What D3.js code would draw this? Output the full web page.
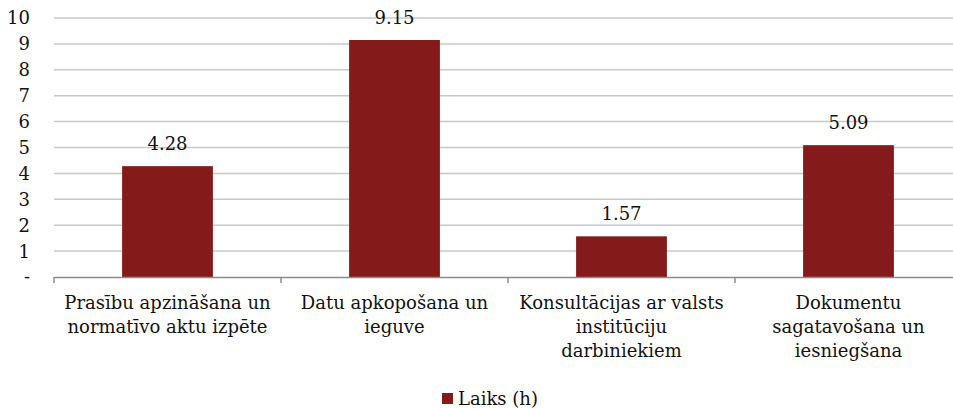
<!DOCTYPE html>
<html>
<head>
<meta charset="utf-8">
<script src="https://cdn.jsdelivr.net/npm/d3@7"></script>
<style>
  body { margin: 0; background: #fff; }
  svg text { font-family: "DejaVu Serif", "Liberation Serif", serif; fill: #111; }
</style>
</head>
<body>
<div id="chart"></div>
<script>
// data
var categories = [
    ["Prasību apzināšana un", "normatīvo aktu izpēte"],
    ["Datu apkopošana un", "ieguve"],
    ["Konsultācijas ar valsts", "institūciju", "darbiniekiem"],
    ["Dokumentu", "sagatavošana un", "iesniegšana"]
];
var values = [4.28, 9.15, 1.57, 5.09];
var tickValues = [0, 1, 2, 3, 4, 5, 6, 7, 8, 9, 10];
var seriesName = "Laiks (h)";

var w = 953;
var h = 409;
var plotLeft = 54, plotRight = 962, plotTop = 18, plotBottom = 277;
var barColor = "#841a1a";
var fontSize = "18px";

var svg = d3.select("#chart")
            .append("svg")
            .attr("width", w)
            .attr("height", h);

var x = d3.scaleBand()
    .domain(d3.range(values.length))
    .range([plotLeft, plotRight])
    .paddingInner(0.6)
    .paddingOuter(0.3);

var y = d3.scaleLinear().domain([0, 10]).range([plotBottom, plotTop]);

// gridlines
svg.append("g")
    .selectAll("line")
    .data(tickValues.slice(1))
    .enter()
    .append("line")
    .attr("x1", plotLeft)
    .attr("x2", w)
    .attr("y1", function(d){ return y(d); })
    .attr("y2", function(d){ return y(d); })
    .attr("stroke", "#c8c8c8")
    .attr("stroke-width", 1.5);

// y labels
svg.append("g")
    .selectAll("text")
    .data(tickValues)
    .enter()
    .append("text")
    .attr("x", 30)
    .attr("y", function(d){ return y(d); })
    .attr("dy", "0.36em")
    .attr("text-anchor", "end")
    .style("font-size", fontSize)
    .text(function(d){ return d === 0 ? "-" : d; });

// bars
svg.selectAll("rect.bar")
    .data(values)
    .enter()
    .append("rect")
    .attr("class", "bar")
    .attr("x", function(d, i){ return x(i); })
    .attr("y", function(d){ return y(d); })
    .attr("width", x.bandwidth())
    .attr("height", function(d){ return plotBottom - y(d); })
    .attr("fill", barColor);

// value labels
svg.selectAll("text.val")
    .data(values)
    .enter()
    .append("text")
    .attr("class", "val")
    .attr("x", function(d, i){ return x(i) + x.bandwidth() / 2; })
    .attr("y", function(d){ return y(d) - 16; })
    .attr("text-anchor", "middle")
    .style("font-size", fontSize)
    .text(function(d){ return d.toFixed(2); });

// x axis line + ticks
var axis = svg.append("g");
axis.append("line")
    .attr("x1", plotLeft).attr("x2", w)
    .attr("y1", plotBottom + 0.5).attr("y2", plotBottom + 0.5)
    .attr("stroke", "#8c8c8c")
    .attr("stroke-width", 1.5);
axis.selectAll("line.tick")
    .data(d3.range(values.length + 1))
    .enter()
    .append("line")
    .attr("class", "tick")
    .attr("x1", function(i){ return plotLeft + i * (plotRight - plotLeft) / values.length; })
    .attr("x2", function(i){ return plotLeft + i * (plotRight - plotLeft) / values.length; })
    .attr("y1", plotBottom)
    .attr("y2", plotBottom + 6)
    .attr("stroke", "#8c8c8c")
    .attr("stroke-width", 1.5);

// category labels
var cat = svg.selectAll("text.cat")
    .data(categories)
    .enter()
    .append("text")
    .attr("class", "cat")
    .attr("text-anchor", "middle")
    .style("font-size", fontSize);
cat.selectAll("tspan")
    .data(function(d, i){ return d.map(function(s){ return {s: s, i: i}; }); })
    .enter()
    .append("tspan")
    .attr("x", function(d){ return x(d.i) + x.bandwidth() / 2; })
    .attr("y", function(d, j){ return 309 + j * 24; })
    .text(function(d){ return d.s; });

// legend
var legend = svg.append("g");
legend.append("rect")
    .attr("x", 442).attr("y", 393)
    .attr("width", 11).attr("height", 11)
    .attr("fill", barColor);
legend.append("text")
    .attr("x", 458).attr("y", 405)
    .style("font-size", fontSize)
    .text(seriesName);
</script>
</body>
</html>
